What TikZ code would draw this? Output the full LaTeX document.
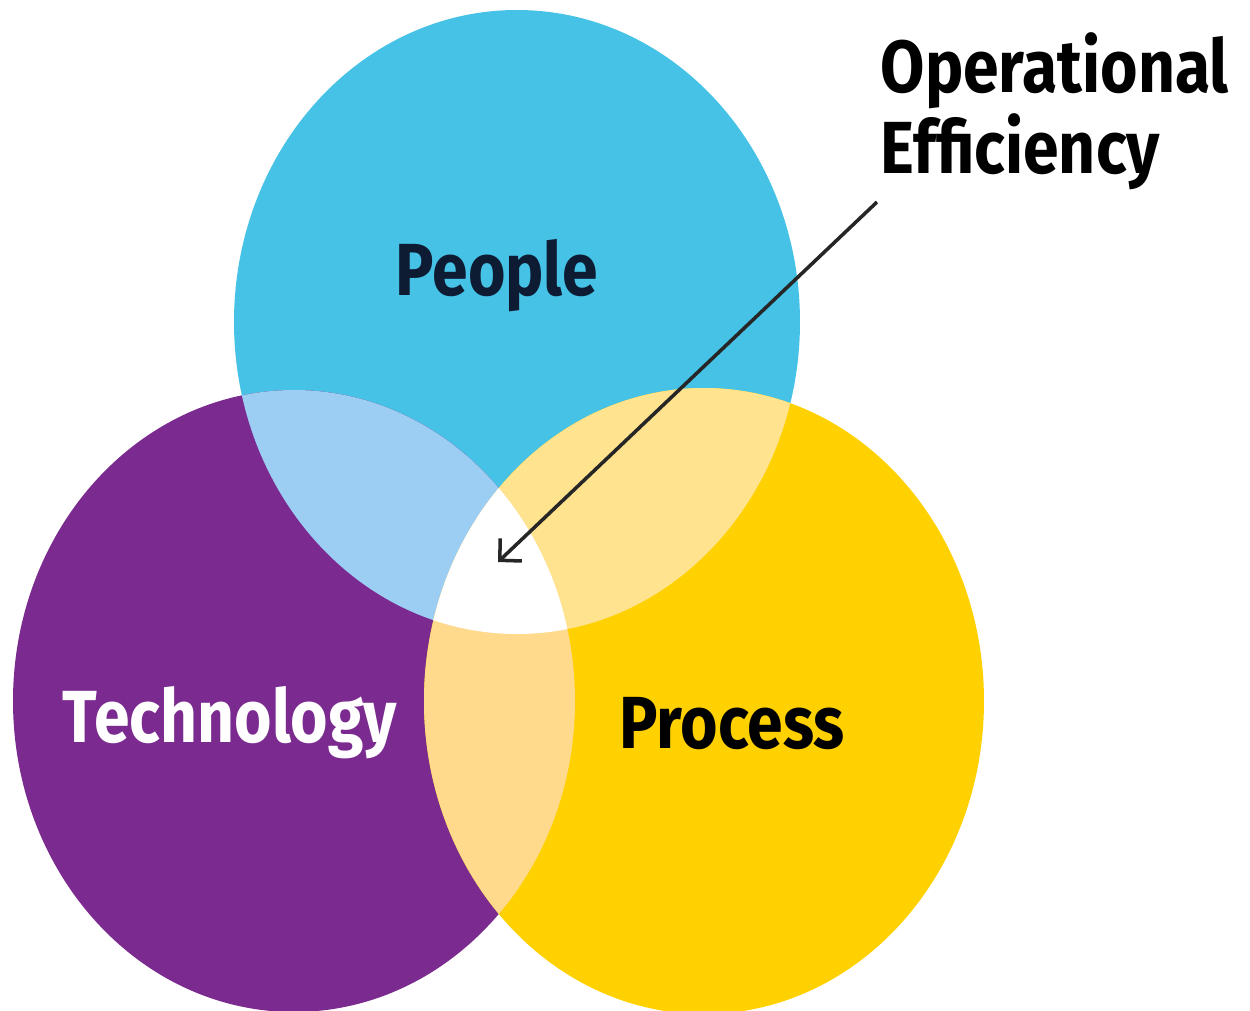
\documentclass[tikz,border=0pt]{standalone}
\usepackage{fontspec}
\setmainfont{Fira Sans}
\newfontfamily\labelfont{Fira Sans}[FakeStretch=0.87]
\usetikzlibrary{arrows.meta}
\definecolor{peoplecyan}{HTML}{45C2E6}
\definecolor{techpurple}{HTML}{7B2A8F}
\definecolor{procyellow}{HTML}{FFD100}
\definecolor{pplxtech}{HTML}{9BCEF2}
\definecolor{pplxproc}{HTML}{FFE38E}
\definecolor{techxproc}{HTML}{FFD98C}
\definecolor{navytext}{HTML}{0D1B33}
\def\peopleshape{(517,322) ellipse [x radius=283, y radius=312]}
\def\techshape{(294,701) ellipse [x radius=281, y radius=311]}
\def\procshape{(704,701) ellipse [x radius=280, y radius=313]}
\tikzset{
    venntext/.style={font=\labelfont\bfseries\fontsize{21}{23}\selectfont, inner sep=0pt, anchor=base},
    pointer/.style={draw=black!85, line width=1pt, -{Straight Barb[length=4.4pt,width=8.9pt]}}
}
\begin{document}
\begin{tikzpicture}[x=0.01cm, y=-0.01cm]
    \useasboundingbox (0,0) rectangle (1250,1011);
    \fill[peoplecyan] \peopleshape;
    \fill[techpurple] \techshape;
    \fill[procyellow] \procshape;
    \begin{scope}
        \clip \peopleshape;
        \fill[pplxtech] \techshape;
        \fill[pplxproc] \procshape;
    \end{scope}
    \begin{scope}
        \clip \techshape;
        \fill[techxproc] \procshape;
    \end{scope}
    \begin{scope}
        \clip \peopleshape;
        \clip \techshape;
        \fill[white] \procshape;
    \end{scope}
    \node[venntext, text=navytext] (people) at (497,295) {People};
    \node[venntext, text=white] (technology) at (230,742) {Technology};
    \node[venntext, text=black] (process) at (732,748) {Process};
    \node[venntext, text=black, anchor=base west, align=left] (opeff) at (880,173) {Operational\\Efficiency};
    \coordinate (tail) at (877,202);
    \coordinate (core) at (498,562);
    \draw[pointer] (tail) -- (core);
\end{tikzpicture}
\end{document}
